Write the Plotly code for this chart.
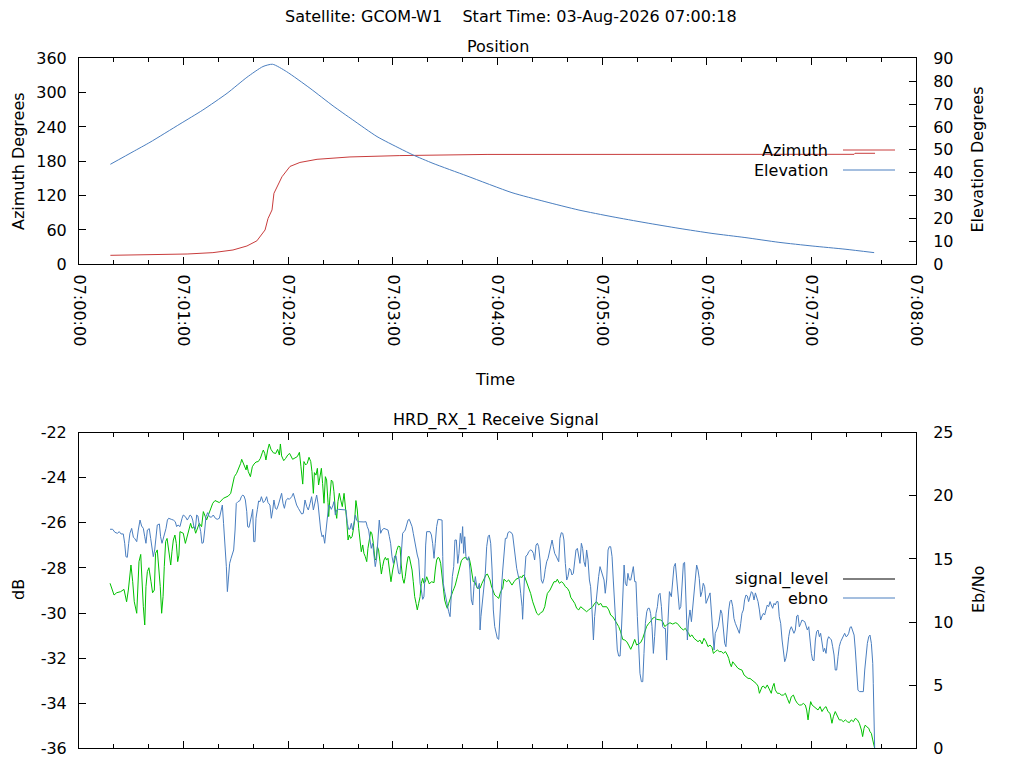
import pandas as pd
import plotly.graph_objects as go

# pass start, all times in seconds after 07:00:00
START = pd.Timestamp("2026-08-03 07:00:00")
X_RANGE = ["2026-08-03 07:00:00", "2026-08-03 07:08:00"]

TITLE = "Satellite: GCOM-W1\u00a0\u00a0\u00a0\u00a0Start Time: 03-Aug-2026 07:00:18"

DB_TICKS = [-36, -34, -32, -30, -28, -26, -24, -22]

# [seconds, degrees]
AZIMUTH = [
    [18, 15.7], [40.7, 16.9], [62, 18.0], [76.8, 20.4], [88.3, 25.0], [96.3, 32.0],
    [102, 41.0], [106.7, 60.0], [108.4, 80.0], [110.7, 95.0], [111.8, 124.0],
    [116.4, 153.0], [121, 171.0], [126.7, 178.0], [136.5, 183.5], [155.4, 187.6],
    [184, 190.0], [234, 192.0], [444.5, 192.2], [445, 194.0], [456.5, 194.0],
]
ELEVATION = [
    [18, 43.7], [31, 49.2], [40.7, 53.3], [57.9, 61.3], [71, 67.4], [84.9, 74.7],
    [96.3, 81.7], [105.5, 86.4], [111, 87.4], [119, 84.2], [132.5, 76.9], [145.7, 69.2],
    [157, 63.1], [170.9, 55.8], [184, 50.6], [191.5, 47.8], [203, 44.1], [222.5, 38.6],
    [248.3, 31.3], [267.2, 27.4], [286.7, 23.7], [305.7, 20.8], [324.6, 18.2],
    [344.1, 15.7], [363, 13.5], [381.9, 11.7], [401.4, 9.6], [420.4, 8.0],
    [439.3, 6.6], [456, 5.1],
]

# [seconds, dB]
SIGNAL_LEVEL = [
    [17.8, -28.68], [20.1, -29.20], [21.6, -29.10], [23.9, -29.05], [25.8, -28.95],
    [26.6, -29.35], [27.3, -29.50], [28.3, -28.98], [29.2, -28.09], [29.8, -27.87],
    [30.8, -28.61], [31.7, -29.50], [33.1, -30.01], [33.8, -29.05], [34.4, -27.72],
    [35.4, -27.40], [36.1, -28.83], [36.9, -29.72], [37.7, -30.53], [38.4, -28.83],
    [39.2, -28.16], [40.1, -27.99], [41.3, -28.61], [42.2, -29.10], [43.2, -28.98],
    [43.9, -27.35], [44.9, -27.20], [45.9, -28.09], [46.6, -28.83], [47.4, -30.01],
    [48.2, -29.27], [48.9, -27.94], [49.7, -26.83], [50.5, -26.69], [51.6, -27.35],
    [52.6, -27.87], [53.3, -27.28], [54.1, -26.76], [55.0, -26.54], [55.8, -26.91],
    [56.6, -27.72], [57.3, -27.43], [57.9, -26.39], [59.8, -26.46], [61.0, -26.91],
    [62.1, -26.61], [63.3, -26.32], [64.0, -26.02], [64.8, -26.24], [65.9, -26.17],
    [66.9, -26.46], [68.0, -26.17], [69.0, -26.02], [70.3, -26.17], [71.3, -25.50],
    [72.4, -25.72], [73.2, -25.87], [74.4, -25.61], [75.5, -25.35], [76.7, -25.13],
    [78.0, -25.01], [80.5, -25.10], [82.8, -24.91], [85.6, -24.81], [87.0, -24.69],
    [88.1, -24.25], [89.1, -23.95], [90.4, -23.80], [91.6, -23.58], [92.7, -23.36],
    [93.3, -23.18], [94.2, -23.33], [95.2, -23.51], [95.8, -23.65], [96.3, -23.43],
    [97.1, -23.73], [98.3, -23.95], [99.4, -23.51], [100.4, -23.39], [101.5, -23.30],
    [102.8, -23.28], [104.0, -23.14], [105.1, -22.89], [105.7, -22.77], [106.5, -22.92],
    [107.2, -23.21], [108.2, -22.77], [109.1, -22.50], [110.1, -22.74], [111.4, -22.89],
    [112.8, -22.92], [113.9, -22.74], [114.9, -22.99], [115.5, -22.50], [116.2, -23.03],
    [117.4, -23.24], [118.5, -23.14], [119.7, -22.99], [120.8, -22.92], [122.5, -23.18],
    [125.2, -23.06], [126.4, -22.87], [127.3, -23.51], [128.3, -24.28], [129.0, -23.28],
    [130.0, -23.43], [130.9, -23.36], [131.9, -23.09], [132.9, -23.28], [133.6, -23.73],
    [134.4, -24.69], [135.0, -23.77], [135.9, -23.88], [136.7, -23.58], [137.4, -24.32],
    [138.2, -23.88], [139.0, -23.58], [139.7, -24.25], [140.5, -25.13], [141.3, -23.95],
    [142.0, -24.10], [142.8, -25.10], [143.2, -25.72], [143.9, -24.84], [144.7, -24.10],
    [145.5, -24.17], [146.2, -24.62], [147.0, -25.43], [147.8, -25.80], [148.5, -25.06],
    [149.3, -24.69], [150.1, -24.99], [151.0, -25.28], [152.0, -24.69], [152.7, -25.21],
    [153.5, -25.87], [154.3, -26.76], [155.0, -26.54], [155.8, -26.69], [156.6, -26.61],
    [157.3, -26.32], [158.1, -25.87], [158.8, -25.01], [159.6, -25.43], [160.4, -26.24],
    [161.1, -26.91], [161.9, -27.28], [162.7, -26.98], [163.4, -27.35], [164.2, -27.50],
    [165.0, -27.72], [165.7, -27.13], [166.5, -26.76], [167.3, -26.39], [168.0, -26.49],
    [168.8, -26.91], [169.6, -27.57], [170.3, -27.65], [171.1, -27.06], [171.8, -27.20],
    [172.6, -27.72], [173.4, -28.27], [174.1, -27.94], [174.9, -27.65], [175.7, -27.53],
    [176.4, -27.65], [177.2, -27.57], [178.0, -28.09], [178.9, -28.61], [179.9, -28.09],
    [180.6, -27.79], [181.4, -27.43], [182.2, -27.23], [183.1, -27.03], [184.1, -27.06],
    [184.8, -27.87], [185.6, -28.46], [186.4, -28.68], [187.1, -28.39], [187.9, -27.87],
    [188.7, -27.50], [189.4, -27.50], [190.2, -27.79], [191.0, -28.09], [191.7, -28.61],
    [192.5, -29.27], [193.3, -29.57], [194.0, -29.86], [194.8, -29.57], [195.6, -29.27],
    [196.3, -28.68], [197.1, -28.46], [197.8, -28.68], [198.6, -28.61], [199.4, -28.39],
    [200.1, -28.53], [200.9, -28.71], [202.1, -28.61], [203.6, -28.65], [204.3, -28.09],
    [205.1, -27.65], [205.9, -27.53], [206.6, -27.57], [207.4, -27.79], [208.2, -28.39],
    [208.9, -28.90], [209.7, -29.42], [210.5, -29.64], [211.2, -29.79], [212.0, -29.57],
    [212.8, -29.35], [213.5, -29.27], [214.3, -29.05], [215.1, -28.90], [215.8, -28.76],
    [217.0, -28.39], [218.1, -28.09], [219.3, -27.68], [220.4, -27.57], [221.6, -27.53],
    [222.7, -27.65], [223.8, -27.57], [224.6, -27.87], [225.4, -28.39], [226.1, -28.61],
    [226.9, -28.61], [227.7, -28.83], [228.4, -28.90], [229.2, -28.90], [230.0, -28.90],
    [231.1, -28.68], [232.3, -28.46], [233.4, -28.31], [234.2, -28.27], [235.0, -28.39],
    [235.7, -28.53], [236.5, -28.80], [237.2, -28.98], [238.4, -29.20], [239.5, -29.27],
    [240.7, -29.35], [241.8, -29.05], [243.0, -28.90], [243.7, -28.50], [244.5, -28.56],
    [245.3, -28.61], [246.4, -28.53], [247.2, -28.65], [248.3, -28.76], [249.5, -28.61],
    [250.6, -28.50], [251.8, -28.46], [252.9, -28.39], [254.1, -28.42], [254.8, -28.31],
    [255.6, -28.39], [256.7, -28.61], [257.9, -28.83], [259.0, -29.13], [260.2, -29.50],
    [261.3, -29.79], [262.5, -30.01], [263.6, -30.09], [264.8, -29.98], [265.9, -29.94],
    [267.1, -29.72], [267.8, -29.42], [268.6, -29.13], [270.1, -28.98], [271.3, -28.76],
    [272.4, -28.61], [273.6, -28.61], [274.3, -28.50], [275.5, -28.68], [276.6, -28.61],
    [277.8, -28.68], [278.9, -28.83], [280.1, -28.90], [281.2, -29.05], [282.0, -29.30],
    [283.1, -29.42], [284.3, -29.57], [285.4, -29.79], [286.6, -29.86], [287.7, -29.72],
    [288.9, -29.79], [290.0, -29.86], [291.1, -29.94], [292.3, -29.86], [293.4, -29.79],
    [294.6, -29.72], [295.7, -29.57], [296.9, -29.50], [298.0, -29.64], [299.2, -29.57],
    [300.3, -29.72], [302.6, -29.72], [303.8, -29.86], [304.9, -30.09], [306.1, -30.16],
    [307.2, -30.31], [308.4, -30.46], [309.5, -30.60], [310.6, -30.83], [311.8, -31.17],
    [313.0, -31.20], [314.1, -31.27], [315.2, -31.42], [316.4, -31.61], [317.5, -31.42],
    [318.7, -31.17], [319.8, -31.42], [321.0, -31.34], [322.1, -31.31], [323.3, -31.12],
    [324.4, -30.83], [325.5, -30.60], [326.7, -30.46], [327.8, -30.38], [329.0, -30.23],
    [330.1, -30.19], [331.3, -30.28], [332.4, -30.28], [333.6, -30.31], [334.7, -30.38],
    [335.9, -30.60], [337.0, -30.53], [338.2, -30.46], [338.9, -30.43], [340.5, -30.49],
    [342.0, -30.43], [343.1, -30.46], [344.3, -30.60], [345.4, -30.68], [346.6, -30.75],
    [347.7, -30.68], [348.9, -30.83], [349.6, -30.90], [350.4, -31.05], [351.5, -30.97],
    [352.7, -31.12], [353.8, -31.20], [355.0, -31.27], [356.1, -31.20], [357.3, -31.37],
    [358.4, -31.12], [359.6, -31.27], [360.7, -31.49], [361.9, -31.42], [363.0, -31.52],
    [363.8, -31.79], [364.9, -31.71], [366.1, -31.64], [367.2, -31.71], [368.4, -31.71],
    [369.5, -31.79], [370.7, -31.71], [371.8, -31.86], [372.6, -32.01], [373.3, -32.23],
    [374.1, -32.38], [374.9, -32.16], [375.6, -32.23], [376.8, -32.30], [377.9, -32.45],
    [379.1, -32.50], [380.2, -32.53], [381.4, -32.75], [382.5, -32.82], [383.7, -32.90],
    [384.8, -32.90], [386.0, -32.97], [387.1, -33.04], [388.3, -33.12], [389.4, -33.24],
    [390.2, -33.56], [391.0, -33.41], [391.7, -33.27], [392.5, -33.24], [393.6, -33.34],
    [394.7, -33.19], [395.9, -33.38], [397.0, -33.56], [397.8, -33.27], [398.6, -33.12],
    [399.3, -33.41], [400.5, -33.56], [401.6, -33.56], [402.8, -33.64], [403.9, -33.64],
    [405.1, -33.56], [406.2, -33.78], [407.4, -34.01], [408.5, -33.71], [409.7, -33.64],
    [410.8, -33.86], [412.0, -34.01], [413.1, -34.08], [414.2, -34.08], [415.4, -34.01],
    [416.5, -34.08], [417.3, -34.30], [418.1, -34.74], [418.8, -34.30], [419.6, -33.93],
    [420.4, -34.08], [421.5, -34.15], [422.7, -34.23], [423.8, -34.30], [425.0, -34.15],
    [426.1, -34.37], [427.2, -34.23], [428.4, -34.15], [429.5, -34.37], [430.7, -34.45],
    [431.8, -34.89], [432.6, -34.60], [433.7, -34.37], [434.9, -34.60], [436.0, -34.74],
    [437.2, -34.74], [438.3, -34.82], [439.5, -34.74], [440.6, -34.82], [441.8, -34.86],
    [442.9, -34.74], [444.1, -34.82], [445.2, -34.67], [446.4, -34.74], [447.5, -34.89],
    [448.7, -35.19], [449.4, -35.48], [450.2, -35.11], [450.9, -34.97], [451.7, -35.04],
    [452.9, -35.11], [453.6, -35.26], [454.4, -35.34], [455.2, -35.63], [455.9, -35.85],
    [456.3, -36.00],
]

# [seconds, Eb/No]
EBNO = [
    [17.8, 17.35], [19.3, 17.35], [20.6, 17.11], [22.0, 17.03], [23.1, 17.16],
    [24.1, 16.98], [25.4, 16.98], [26.2, 16.24], [26.9, 15.18], [27.7, 15.13],
    [28.5, 16.24], [29.2, 17.03], [30.2, 17.42], [31.2, 16.71], [31.9, 16.63],
    [33.1, 16.37], [34.0, 17.29], [35.0, 18.08], [35.9, 17.61], [36.9, 17.42],
    [37.7, 16.76], [38.4, 16.24], [39.2, 17.29], [40.3, 17.40], [41.1, 16.63],
    [41.9, 15.84], [42.6, 15.18], [43.4, 15.71], [44.2, 16.63], [44.9, 17.69],
    [46.1, 17.77], [46.8, 16.76], [47.6, 16.24], [48.4, 16.63], [49.1, 16.90],
    [49.9, 17.42], [50.7, 18.08], [51.4, 18.22], [52.9, 18.14], [54.1, 18.08],
    [55.2, 17.95], [56.0, 17.56], [56.8, 17.69], [57.9, 17.56], [59.1, 18.22],
    [59.8, 18.48], [61.0, 18.35], [62.1, 18.08], [62.9, 18.27], [63.7, 18.48],
    [64.4, 18.40], [65.2, 18.08], [65.9, 17.56], [66.7, 17.35], [67.5, 18.48],
    [68.2, 18.40], [69.0, 17.69], [69.8, 17.16], [70.5, 16.24], [71.3, 16.29],
    [72.1, 17.29], [72.8, 18.35], [73.8, 18.67], [74.7, 18.35], [75.9, 18.30],
    [77.0, 18.48], [78.2, 18.22], [79.3, 18.14], [80.5, 18.22], [81.4, 18.88],
    [82.2, 19.27], [82.9, 17.82], [83.7, 16.24], [84.5, 14.39], [85.1, 12.41],
    [85.6, 13.20], [86.4, 14.65], [87.2, 15.05], [87.9, 15.44], [88.7, 15.71],
    [89.5, 17.29], [90.2, 19.40], [91.2, 19.54], [92.3, 19.62], [93.1, 19.93],
    [93.9, 20.06], [94.6, 19.99], [95.4, 19.67], [96.2, 18.74], [96.7, 17.56],
    [97.5, 17.50], [98.3, 18.22], [99.0, 18.48], [99.6, 18.93], [100.2, 16.37],
    [100.9, 16.37], [101.5, 18.22], [102.3, 18.93], [103.0, 19.59], [103.8, 19.54],
    [104.6, 19.93], [105.7, 19.46], [106.7, 19.62], [107.6, 19.93], [108.4, 19.46],
    [109.5, 19.27], [110.3, 18.22], [111.1, 18.88], [111.8, 19.67], [112.6, 19.01],
    [113.4, 18.93], [114.3, 19.27], [115.3, 19.67], [116.2, 20.20], [117.0, 19.40],
    [117.8, 19.01], [118.7, 19.62], [119.7, 19.80], [120.6, 19.72], [122.0, 19.93],
    [122.9, 20.20], [123.9, 19.67], [124.8, 19.27], [125.8, 19.01], [126.7, 18.74],
    [127.7, 18.56], [128.6, 18.61], [129.6, 19.67], [130.6, 19.14], [131.5, 18.88],
    [132.5, 19.40], [133.4, 19.93], [134.4, 18.88], [135.3, 19.40], [136.3, 20.06],
    [137.1, 19.35], [137.8, 18.08], [138.6, 17.29], [139.4, 16.76], [140.1, 16.90],
    [140.9, 16.24], [141.6, 17.29], [142.4, 18.48], [143.2, 19.27], [143.9, 19.19],
    [144.7, 18.93], [145.5, 19.19], [146.2, 19.54], [147.0, 18.48], [147.8, 18.88],
    [148.9, 18.93], [152.4, 18.93], [153.1, 18.88], [153.9, 17.82], [154.6, 17.35],
    [155.4, 17.37], [156.2, 17.82], [156.9, 17.29], [157.7, 17.82], [158.5, 18.48],
    [159.2, 18.08], [160.0, 17.95], [163.4, 17.93], [164.6, 17.95], [165.3, 17.56],
    [166.1, 17.29], [166.9, 16.50], [167.6, 15.84], [168.4, 16.24], [169.2, 15.18],
    [169.9, 14.39], [170.7, 15.05], [171.5, 16.50], [172.2, 18.08], [173.0, 17.03],
    [173.8, 17.29], [174.9, 17.42], [176.1, 17.37], [177.2, 17.29], [178.0, 16.76],
    [178.7, 16.24], [179.5, 15.18], [180.3, 14.65], [181.0, 15.23], [181.8, 15.23],
    [182.6, 14.52], [183.3, 13.86], [184.1, 13.81], [184.8, 15.31], [185.6, 17.03],
    [186.4, 17.16], [187.1, 17.29], [187.9, 17.69], [188.7, 18.08], [189.4, 18.14],
    [190.2, 17.82], [191.0, 17.56], [191.7, 17.03], [192.5, 16.37], [193.3, 15.92],
    [194.0, 15.31], [194.8, 14.92], [195.6, 13.07], [196.3, 12.54], [197.1, 11.80],
    [197.8, 12.01], [198.2, 13.07], [198.8, 16.10], [199.4, 17.16], [201.3, 17.16],
    [202.1, 16.90], [202.8, 16.24], [203.6, 15.05], [204.3, 16.24], [205.1, 17.56],
    [205.9, 18.14], [208.2, 18.08], [208.6, 15.18], [208.9, 13.07], [209.7, 12.41],
    [210.5, 11.75], [211.2, 11.22], [212.0, 10.82], [212.8, 10.43], [213.3, 12.01],
    [214.1, 13.60], [214.9, 14.39], [215.6, 16.50], [216.4, 16.50], [217.2, 14.65],
    [217.9, 15.44], [218.7, 17.03], [219.4, 16.24], [220.0, 17.56], [220.6, 15.44],
    [221.2, 16.76], [221.9, 15.18], [222.7, 14.92], [223.5, 15.18], [224.2, 14.12],
    [225.0, 11.75], [225.8, 11.35], [226.5, 12.81], [227.3, 13.60], [228.1, 12.81],
    [228.8, 12.67], [229.6, 13.07], [230.0, 9.37], [230.5, 10.43], [231.3, 11.75],
    [232.3, 12.80], [233.0, 13.86], [233.8, 15.97], [234.6, 16.76], [235.3, 16.90],
    [236.1, 16.24], [236.9, 14.12], [237.6, 10.96], [238.4, 9.64], [239.2, 8.98],
    [239.9, 8.71], [240.7, 8.63], [241.4, 10.69], [242.2, 12.54], [243.0, 14.12],
    [243.7, 15.71], [244.5, 16.63], [245.3, 16.63], [246.0, 17.08], [246.8, 17.16],
    [248.0, 17.08], [248.7, 16.90], [249.5, 15.97], [250.2, 14.92], [251.0, 14.26],
    [251.8, 13.73], [252.5, 13.33], [253.3, 12.28], [254.1, 11.22], [254.4, 10.22],
    [254.8, 11.75], [255.6, 13.86], [256.3, 15.23], [257.1, 15.31], [257.9, 15.58],
    [259.0, 15.71], [259.8, 15.66], [260.6, 15.44], [261.3, 14.92], [262.1, 16.10],
    [262.9, 16.24], [263.6, 15.97], [264.4, 14.92], [265.1, 13.33], [265.9, 13.07],
    [266.7, 13.46], [267.4, 14.18], [268.2, 14.78], [269.0, 15.05], [269.7, 15.44],
    [270.5, 15.97], [271.3, 16.50], [272.0, 15.97], [272.8, 15.44], [273.6, 15.23],
    [274.3, 15.05], [275.1, 14.78], [275.8, 16.63], [276.6, 17.08], [277.4, 17.03],
    [278.1, 16.50], [278.9, 14.65], [279.7, 13.33], [280.4, 13.60], [281.2, 14.26],
    [282.0, 14.12], [282.7, 13.73], [283.5, 13.86], [284.3, 14.78], [285.0, 15.71],
    [285.8, 15.84], [286.6, 15.31], [287.3, 14.65], [288.1, 16.24], [288.8, 15.84],
    [289.6, 14.78], [290.4, 14.39], [291.1, 15.71], [291.9, 14.92], [292.7, 13.33],
    [293.4, 12.80], [294.2, 10.96], [295.0, 8.58], [295.7, 10.43], [296.5, 11.62],
    [297.3, 12.80], [298.0, 13.60], [298.8, 14.39], [299.6, 13.99], [300.3, 13.60],
    [301.1, 13.33], [301.8, 12.28], [302.6, 13.33], [303.4, 15.71], [304.1, 15.97],
    [304.9, 15.97], [305.7, 15.18], [306.4, 13.33], [307.2, 11.48], [308.0, 9.64],
    [308.7, 7.79], [309.5, 7.31], [310.3, 7.31], [311.0, 9.11], [311.8, 11.48],
    [312.6, 14.52], [313.3, 13.07], [314.1, 12.86], [314.8, 13.86], [315.6, 13.33],
    [316.4, 13.33], [317.1, 13.73], [317.9, 14.39], [318.7, 13.20], [319.4, 13.20],
    [320.2, 10.43], [321.0, 7.79], [321.7, 5.94], [322.5, 5.28], [323.3, 5.28],
    [324.0, 7.52], [324.8, 9.90], [325.6, 10.82], [326.3, 11.09], [327.1, 11.09],
    [327.8, 10.69], [328.6, 9.64], [329.4, 7.52], [330.1, 8.84], [330.9, 10.69],
    [331.7, 11.22], [332.4, 12.14], [333.2, 12.28], [334.0, 11.22], [334.7, 9.64],
    [335.5, 9.50], [336.3, 9.50], [337.0, 6.99], [337.8, 10.16], [338.6, 12.41],
    [339.7, 12.01], [340.5, 13.07], [341.2, 14.39], [342.0, 14.65], [342.8, 13.33],
    [343.5, 11.75], [344.3, 11.00], [345.1, 11.22], [345.8, 13.07], [346.6, 14.65],
    [347.3, 14.73], [348.1, 12.01], [348.9, 8.58], [349.6, 10.16], [350.4, 10.96],
    [351.2, 10.03], [351.9, 11.22], [352.7, 12.67], [353.5, 13.86], [354.2, 14.52],
    [355.0, 14.12], [355.7, 13.46], [356.5, 12.01], [357.3, 12.41], [358.0, 13.07],
    [358.8, 12.80], [359.6, 11.48], [360.3, 11.75], [361.1, 12.14], [361.9, 12.31],
    [362.6, 10.96], [363.4, 9.37], [364.2, 7.79], [364.9, 9.11], [365.7, 9.37],
    [366.5, 9.63], [367.2, 10.16], [368.0, 10.96], [368.7, 10.69], [369.5, 9.37],
    [370.3, 8.31], [371.0, 8.05], [371.8, 9.90], [372.6, 10.96], [373.3, 11.62],
    [374.1, 11.75], [374.9, 11.22], [375.6, 10.29], [376.4, 9.90], [377.2, 9.63],
    [377.9, 9.37], [378.7, 9.11], [379.5, 9.90], [380.2, 10.69], [381.0, 10.96],
    [381.7, 11.75], [382.5, 12.14], [383.3, 12.06], [384.0, 11.62], [384.8, 12.01],
    [385.6, 12.41], [386.3, 12.31], [387.1, 11.75], [387.9, 12.31], [388.6, 12.01],
    [389.4, 11.62], [390.2, 10.96], [390.9, 10.16], [391.7, 10.48], [392.5, 10.69],
    [393.2, 10.56], [394.0, 10.96], [394.7, 11.35], [395.5, 11.22], [396.3, 11.62],
    [397.0, 11.35], [397.8, 11.09], [398.6, 11.48], [399.3, 11.35], [400.1, 11.62],
    [400.9, 11.62], [401.6, 10.43], [402.4, 9.90], [403.2, 8.58], [403.9, 7.92],
    [404.7, 6.86], [405.4, 7.13], [406.2, 7.79], [407.0, 8.84], [407.7, 9.37],
    [408.5, 9.63], [409.3, 9.24], [410.0, 9.11], [410.8, 9.37], [411.6, 10.48],
    [412.3, 10.56], [413.1, 9.63], [413.9, 9.90], [414.6, 10.16], [416.2, 10.03],
    [416.9, 9.63], [417.7, 9.37], [418.5, 9.63], [419.2, 8.31], [420.0, 7.52],
    [420.7, 6.99], [421.5, 6.94], [422.3, 8.58], [423.0, 9.24], [423.8, 9.37],
    [424.6, 8.84], [425.3, 9.11], [426.1, 8.45], [426.9, 7.65], [427.6, 7.92],
    [428.4, 7.52], [429.2, 8.58], [429.9, 8.84], [430.7, 8.71], [431.5, 8.58],
    [432.2, 8.05], [433.0, 7.39], [433.7, 6.20], [434.5, 6.20], [435.3, 7.26],
    [436.0, 8.05], [436.8, 8.45], [437.6, 8.71], [438.3, 8.97], [439.1, 9.11],
    [439.9, 8.84], [440.6, 8.90], [441.4, 9.11], [442.2, 9.58], [442.9, 9.63],
    [443.7, 9.24], [444.5, 8.97], [445.2, 7.79], [446.0, 6.20], [446.7, 4.62],
    [447.5, 4.49], [449.8, 4.49], [450.6, 6.20], [451.3, 7.26], [452.1, 8.31],
    [452.9, 8.84], [453.6, 8.97], [454.4, 8.31], [455.2, 6.73], [455.5, 5.15],
    [455.9, 2.51], [456.3, 0.00],
]

RED = "#c83c3c"
BLUE = "#4a7ebf"
GREEN = "#00c000"
FONT = "DejaVu Sans"
FS = 16

# the page body has an 8px margin, so the figure is a bit smaller than the window
PAD = 8
W, H = 1024 - PAD, 768 - PAD


def px(x, y):
    # window pixel position -> paper fraction
    return (x - PAD) / W, 1 - (y - PAD) / H


X_DOM = [px(79, 0)[0], px(916, 0)[0]]
TOP_DOM = [px(0, 264.3)[1], px(0, 58.3)[1]]
BOT_DOM = [px(0, 748.3)[1], px(0, 432.7)[1]]


def to_xy(pairs):
    t, v = zip(*pairs)
    return START + pd.to_timedelta(list(t), unit="s"), list(v)


fig = go.Figure()

x, y = to_xy(AZIMUTH)
fig.add_trace(go.Scatter(x=x, y=y, mode="lines", line=dict(color=RED, width=1),
                         xaxis="x", yaxis="y", showlegend=False))
x, y = to_xy(ELEVATION)
fig.add_trace(go.Scatter(x=x, y=y, mode="lines",
                         line=dict(color=BLUE, width=1, shape="spline", smoothing=0.6),
                         xaxis="x", yaxis="y2", showlegend=False))
x, y = to_xy(SIGNAL_LEVEL)
fig.add_trace(go.Scatter(x=x, y=y, mode="lines", line=dict(color=GREEN, width=1),
                         xaxis="x2", yaxis="y3", showlegend=False))
x, y = to_xy(EBNO)
fig.add_trace(go.Scatter(x=x, y=y, mode="lines", line=dict(color=BLUE, width=1),
                         xaxis="x2", yaxis="y4", showlegend=False))

axis = dict(showline=True, linecolor="black", linewidth=1, ticks="inside",
            tickcolor="black", ticklen=7, tickwidth=1, showgrid=False, zeroline=False,
            automargin=False, tickfont=dict(family=FONT, size=FS, color="black"))
time_axis = dict(type="date", range=X_RANGE, tick0=X_RANGE[0], dtick=60000,
                 tickformat="%H:%M:%S", tickangle=90, mirror="ticks", domain=X_DOM,
                 ticklabelstandoff=6,
                 minor=dict(dtick=20000, tick0=X_RANGE[0], ticks="inside",
                            ticklen=4, tickcolor="black"))
left = dict(side="left", ticklabelstandoff=8)
right = dict(side="right", ticklabelstandoff=13)

fig.update_layout(
    width=W, height=H, autosize=False,
    margin=dict(l=0, r=0, t=0, b=0, pad=0),
    paper_bgcolor="white", plot_bgcolor="white",
    font=dict(family=FONT, size=FS, color="black"),
    xaxis=dict(anchor="y", **time_axis, **axis),
    yaxis=dict(domain=TOP_DOM, anchor="x", range=[0, 360], dtick=60, **left, **axis),
    yaxis2=dict(overlaying="y", anchor="x", range=[0, 90], dtick=10, **right, **axis),
    xaxis2=dict(anchor="y3", showticklabels=False, **time_axis, **axis),
    # gnuplot prints a plain hyphen for negative labels
    yaxis3=dict(domain=BOT_DOM, anchor="x2", range=[-36, -22], tickmode="array",
                tickvals=DB_TICKS, ticktext=[str(v) for v in DB_TICKS], **left, **axis),
    yaxis4=dict(overlaying="y3", anchor="x2", range=[0, 25], dtick=5, **right, **axis),
)

# titles
texts = [
    (TITLE, 511, 17, 0),
    ("Position", 497.5, 46, 0),
    ("Time", 495, 379, 0),
    ("HRD_RX_1 Receive Signal", 495.5, 420, 0),
    ("Azimuth Degrees", 18, 161, -90),
    ("Elevation Degrees", 977.5, 160, -90),
    ("dB", 18, 590, -90),
    ("Eb/No", 978, 590, -90),
]
for text, tx, ty, ang in texts:
    ax_, ay_ = px(tx, ty)
    fig.add_annotation(text=text, x=ax_, y=ay_, xref="paper", yref="paper",
                       showarrow=False, textangle=ang, xanchor="center", yanchor="middle",
                       font=dict(family=FONT, size=FS, color="black"))

# gnuplot style key: label on the left, line sample on the right
keys = [("Azimuth", RED, 150), ("Elevation", BLUE, 170),
        ("signal_level", "black", 579), ("ebno", BLUE, 598)]
for label, color, ky in keys:
    lx, ly = px(830, ky)
    fig.add_annotation(text=label, x=lx, y=ly, xref="paper", yref="paper",
                       showarrow=False, xanchor="right", yanchor="middle",
                       font=dict(family=FONT, size=FS, color="black"))
    x0, y0 = px(843, ky)
    x1, _ = px(895, ky)
    fig.add_shape(type="line", xref="paper", yref="paper", x0=x0, x1=x1, y0=y0, y1=y0,
                  line=dict(color=color, width=1))

fig.write_html("out.html")
